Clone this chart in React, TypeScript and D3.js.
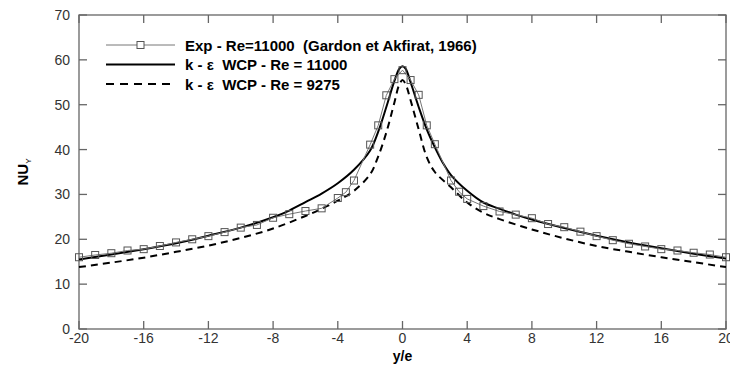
import React, { useEffect, useRef } from 'react';
import * as d3 from 'd3';

// experimental points (Gardon et Akfirat, 1966)
const expX = [-20, -19, -18, -17, -16, -15, -14, -13, -12, -11, -10, -9, -8, -7, -6, -5, -4, -3.5, -3, -2, -1.5, -1, -0.5, 0, 0.5, 1, 1.5, 2, 3, 3.5, 4, 5, 6, 7, 8, 9, 10, 11, 12, 13, 14, 15, 16, 17, 18, 19, 20];
const expNu = [16.0, 16.5, 16.9, 17.5, 17.8, 18.5, 19.3, 20.0, 20.7, 21.6, 22.6, 23.2, 24.8, 25.6, 26.3, 26.9, 29.2, 30.5, 33.1, 41.1, 45.4, 52.1, 55.7, 57.7, 55.5, 52.2, 45.4, 41.2, 33.1, 30.6, 29.0, 27.4, 26.2, 25.5, 24.7, 23.4, 22.7, 21.7, 20.7, 19.8, 19.0, 18.4, 17.8, 17.5, 17.0, 16.6, 16.0];

// k-eps WCP, Re = 11000
const wcpX = [-20, -18, -16, -14, -12, -10, -8, -7, -6, -5, -4, -3, -2, -1.5, -1, -0.5, -0.2, 0, 0.2, 0.5, 1, 1.5, 2, 2.5, 3, 4, 5, 6, 7, 8, 10, 12, 14, 16, 18, 20];
const wcpNu = [15.5, 16.6, 17.8, 19.1, 20.8, 22.6, 24.9, 26.4, 28.3, 30.2, 32.5, 35.5, 39.8, 44.0, 49.5, 55.3, 58.0, 58.6, 58.0, 55.0, 49.5, 44.5, 40.5, 37.0, 34.3, 30.8, 28.2, 26.8, 25.5, 24.4, 22.5, 20.8, 19.3, 18.0, 16.8, 15.7];

// k-eps WCP, Re = 9275
const lowX = [-20, -18, -16, -14, -12, -10, -8, -6, -5, -4, -3, -2, -1.5, -1, -0.5, -0.2, 0, 0.2, 0.5, 1, 1.5, 2, 3, 4, 5, 6, 8, 10, 12, 14, 16, 18, 20];
const lowNu = [13.8, 14.8, 15.9, 17.2, 18.6, 20.3, 22.4, 25.2, 26.8, 28.6, 30.8, 34.5, 38.5, 43.8, 50.5, 54.5, 55.5, 54.5, 51.0, 44.5, 38.3, 35.0, 31.6, 28.2, 25.9, 24.5, 22.2, 20.2, 18.5, 17.2, 16.0, 14.9, 13.8];

const xTicks = [-20, -16, -12, -8, -4, 0, 4, 8, 12, 16, 20];
const yTicks = [0, 10, 20, 30, 40, 50, 60, 70];

const legendLabels = [
  'Exp - Re=11000  (Gardon et Akfirat, 1966)',
  'k - \u03b5  WCP - Re = 11000',
  'k - \u03b5  WCP - Re = 9275',
];

const App = () => {
  const svgRef = useRef<SVGSVGElement | null>(null);

  useEffect(() => {
    const svg = d3.select(svgRef.current);
    svg.selectAll('*').remove();

    const left = 79, right = 726, top = 15, bottom = 329;
    const font = 'Arial, "Liberation Sans", sans-serif';
    const axisCol = '#666';

    const x = d3.scaleLinear().domain([-20, 20]).range([left, right]);
    const y = d3.scaleLinear().domain([0, 70]).range([bottom, top]);

    // frame
    svg.append('rect')
      .attr('x', left).attr('y', top)
      .attr('width', right - left).attr('height', bottom - top)
      .attr('fill', 'none').attr('stroke', axisCol).attr('stroke-width', 1.3);

    const tl = 8;
    // x ticks bottom + top
    xTicks.forEach(t => {
      svg.append('line').attr('x1', x(t)).attr('x2', x(t)).attr('y1', bottom).attr('y2', bottom - tl)
        .attr('stroke', axisCol).attr('stroke-width', 1.3);
      svg.append('line').attr('x1', x(t)).attr('x2', x(t)).attr('y1', top).attr('y2', top + tl)
        .attr('stroke', axisCol).attr('stroke-width', 1.3);
      svg.append('text').attr('x', x(t)).attr('y', bottom + 14)
        .attr('text-anchor', 'middle').attr('font-family', font).attr('font-size', 14)
        .attr('fill', '#333').text(String(t));
    });
    yTicks.forEach(t => {
      svg.append('line').attr('x1', left).attr('x2', left + tl).attr('y1', y(t)).attr('y2', y(t))
        .attr('stroke', axisCol).attr('stroke-width', 1.3);
      svg.append('line').attr('x1', right).attr('x2', right - tl).attr('y1', y(t)).attr('y2', y(t))
        .attr('stroke', axisCol).attr('stroke-width', 1.3);
      svg.append('text').attr('x', left - 9).attr('y', y(t) + 5)
        .attr('text-anchor', 'end').attr('font-family', font).attr('font-size', 14)
        .attr('fill', '#333').text(String(t));
    });

    const line = d3.line<[number, number]>()
      .x(d => x(d[0])).y(d => y(d[1]))
      .curve(d3.curveCatmullRom.alpha(0.5));

    // model lines
    svg.append('path')
      .datum(lowX.map((v, i) => [v, lowNu[i]] as [number, number]))
      .attr('d', line).attr('fill', 'none').attr('stroke', '#000')
      .attr('stroke-width', 2).attr('stroke-dasharray', '7,5');

    svg.append('path')
      .datum(wcpX.map((v, i) => [v, wcpNu[i]] as [number, number]))
      .attr('d', line).attr('fill', 'none').attr('stroke', '#000').attr('stroke-width', 2);

    // experiment
    const expLine = d3.line<[number, number]>().x(d => x(d[0])).y(d => y(d[1]));
    const expPts = expX.map((v, i) => [v, expNu[i]] as [number, number]);
    svg.append('path').datum(expPts).attr('d', expLine)
      .attr('fill', 'none').attr('stroke', '#777').attr('stroke-width', 1);
    svg.selectAll('rect.pt').data(expPts).enter().append('rect')
      .attr('class', 'pt')
      .attr('x', d => x(d[0]) - 3.5).attr('y', d => y(d[1]) - 3.5)
      .attr('width', 7).attr('height', 7)
      .attr('fill', 'none').attr('stroke', '#555').attr('stroke-width', 1);

    // legend
    const lx1 = 106, lx2 = 175, tx = 185;
    const ly = [45, 64.5, 84];
    svg.append('line').attr('x1', lx1).attr('x2', lx2).attr('y1', ly[0]).attr('y2', ly[0])
      .attr('stroke', '#777').attr('stroke-width', 1);
    svg.append('rect').attr('x', (lx1 + lx2) / 2 - 3.5).attr('y', ly[0] - 3.5)
      .attr('width', 7).attr('height', 7).attr('fill', '#fff').attr('stroke', '#555');
    svg.append('line').attr('x1', lx1).attr('x2', lx2).attr('y1', ly[1]).attr('y2', ly[1])
      .attr('stroke', '#000').attr('stroke-width', 2);
    svg.append('line').attr('x1', lx1).attr('x2', lx2).attr('y1', ly[2]).attr('y2', ly[2])
      .attr('stroke', '#000').attr('stroke-width', 2).attr('stroke-dasharray', '8,6');
    legendLabels.forEach((l, i) => {
      svg.append('text').attr('x', tx).attr('y', ly[i] + 5.5)
        .attr('font-family', font).attr('font-size', 15).attr('font-weight', 'bold')
        .attr('fill', '#000').attr('xml:space', 'preserve').style('white-space', 'pre').text(l);
    });

    // axis titles
    svg.append('text').attr('x', (left + right) / 2).attr('y', 361)
      .attr('text-anchor', 'middle').attr('font-family', font).attr('font-size', 14)
      .attr('font-weight', 'bold').text('y/e');

    const yl = svg.append('text')
      .attr('transform', 'translate(28,172) rotate(-90)')
      .attr('text-anchor', 'middle').attr('font-family', font)
      .attr('font-weight', 'bold').attr('font-size', 15);
    yl.append('tspan').text('NU');
    yl.append('tspan').attr('font-size', 8).attr('font-weight', 'normal').attr('dy', 3).text('Y');
  }, []);

  return (
    <div style={{ position: 'absolute', left: 0, top: 0 }}>
      <svg ref={svgRef} width={730} height={369} style={{ display: 'block', background: '#fff' }} />
    </div>
  );
};

export default App;
